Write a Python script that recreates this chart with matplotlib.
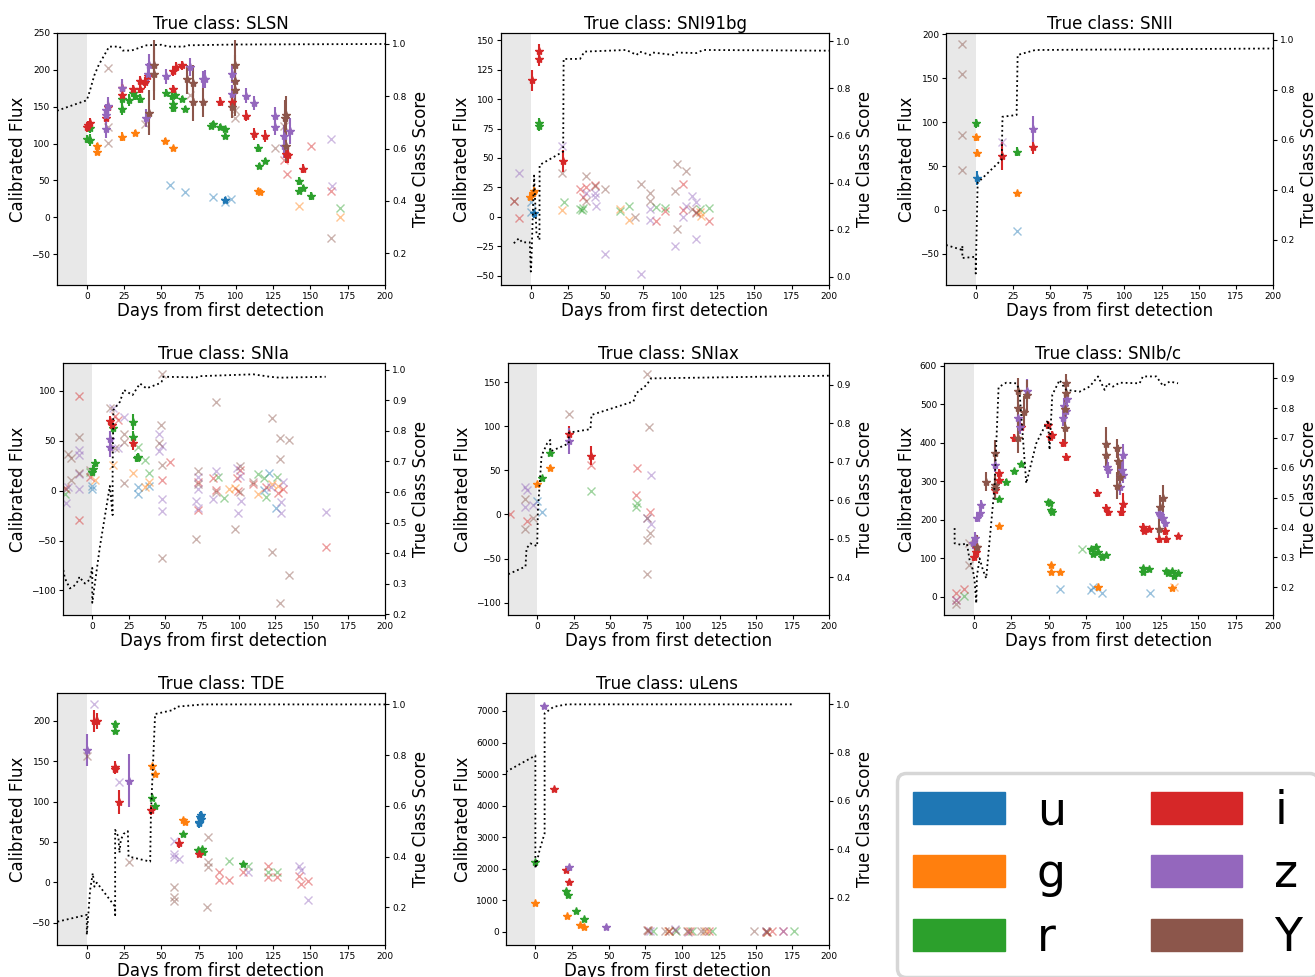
import numpy as np
import matplotlib.pyplot as plt
from matplotlib.patches import Patch

bands = ['u', 'g', 'r', 'i', 'z', 'Y']
band_colors = ['tab:blue', 'tab:orange', 'tab:green', 'tab:red', 'tab:purple', 'tab:brown']

# ---- SLSN ---- detections: (band, day, flux, err) / non-detections: (band, day, flux)
slsn_det = [
    ('i', 0, 122, 6), ('i', 1, 125, 6), ('i', 2, 128, 6), ('i', 13, 135, 8), ('i', 14, 150, 8),
    ('i', 23.7, 166, 8), ('i', 23.7, 175, 8), ('i', 31, 174, 6), ('i', 36, 185, 7), ('i', 36, 174, 6),
    ('i', 39, 183, 7), ('i', 41, 191, 8), ('i', 57.7, 198, 6), ('i', 57.7, 174, 5), ('i', 60, 204, 6),
    ('i', 64, 206, 6), ('i', 89, 157, 6), ('i', 97.7, 157, 8), ('i', 107, 138, 8), ('i', 112, 113, 8),
    ('i', 119.5, 110, 8), ('i', 133.6, 86, 12), ('i', 135, 85, 12), ('i', 145, 66, 6),
    ('r', 0, 106, 5), ('r', 2, 105, 8), ('r', 2, 121, 7), ('r', 23.7, 147, 8), ('r', 23.7, 160, 8),
    ('r', 28, 159, 8), ('r', 31, 168, 5), ('r', 32, 164, 5), ('r', 36, 161, 6), ('r', 53, 169, 5),
    ('r', 57, 164, 5), ('r', 57.7, 154, 5), ('r', 57.7, 148, 5), ('r', 59, 166, 5), ('r', 64, 161, 4),
    ('r', 66, 147, 4), ('r', 83, 124, 4), ('r', 84.5, 127, 4), ('r', 89, 122, 4), ('r', 92.7, 120, 4),
    ('r', 92.7, 110, 4), ('r', 114.6, 94, 5), ('r', 115.8, 69, 4), ('r', 119.5, 76, 4),
    ('r', 142.3, 49, 5), ('r', 142.3, 36, 5), ('r', 145, 40, 4), ('r', 150.4, 29, 5),
    ('g', 7, 96, 5), ('g', 7, 88, 4), ('g', 23.7, 109, 6), ('g', 32, 114, 4), ('g', 52.5, 104, 4),
    ('g', 57.7, 94, 3), ('g', 114.6, 36, 3), ('g', 116, 34, 3),
    ('u', 92.7, 24, 4),
    ('z', 13, 146, 8), ('z', 13, 139, 10), ('z', 13, 120, 12), ('z', 14.5, 151, 12), ('z', 23.7, 175, 12),
    ('z', 40, 135, 12), ('z', 41, 195, 14), ('z', 41.5, 206, 15), ('z', 53, 191, 10), ('z', 69, 204, 12),
    ('z', 77.8, 187, 12), ('z', 79, 188, 12), ('z', 97.7, 194, 12), ('z', 97.7, 167, 12),
    ('z', 107, 165, 10), ('z', 112, 155, 10), ('z', 126, 137, 12), ('z', 126, 123, 12),
    ('z', 132, 110, 15), ('z', 132, 96, 15), ('z', 136, 117, 18),
    ('Y', 41.8, 142, 30), ('Y', 45, 194, 35), ('Y', 45, 206, 35), ('Y', 67.5, 187, 20),
    ('Y', 71.5, 182, 25), ('Y', 71.5, 156, 25), ('Y', 77.8, 156, 20), ('Y', 97.7, 150, 15),
    ('Y', 99.7, 206, 35), ('Y', 99.7, 185, 35), ('Y', 99.7, 173, 35), ('Y', 133, 134, 25),
    ('Y', 133.6, 139, 25), ('Y', 133.6, 96, 20),
]
slsn_nondet = [
    ('Y', 14.5, 202), ('Y', 14.5, 122), ('Y', 14, 101), ('Y', 39, 127), ('Y', 69, 166), ('Y', 99.7, 135),
    ('Y', 99.7, 145), ('Y', 126, 94), ('Y', 132.5, 124), ('Y', 163.6, -28),
    ('i', 132.5, 78), ('i', 134.5, 58), ('i', 150.4, 97), ('i', 163.6, 36),
    ('u', 56, 44), ('u', 66, 34), ('u', 84.5, 27), ('u', 92.7, 20), ('u', 96.5, 25),
    ('z', 163.6, 106), ('z', 164.5, 42), ('g', 142.3, 15), ('g', 170, 0), ('r', 170, 12),
]
slsn_score_t = [-20, -10, 0, 2, 5, 8, 12, 15, 22, 24, 30, 35, 40, 50, 55, 65, 68, 100, 200]
slsn_score = [0.745, 0.765, 0.785, 0.82, 0.88, 0.92, 0.96, 0.99, 0.99, 0.975, 0.975, 0.985,
              0.995, 0.997, 0.99, 0.99, 0.995, 0.998, 1.0]

# ---- SNI91bg ----
sni91bg_det = [
    ('i', 1, 116, 9), ('i', 5.8, 141, 6), ('i', 5.8, 134, 6), ('i', 21.7, 47.5, 9),
    ('r', 5.8, 80, 4), ('r', 5.8, 77, 4),
    ('g', -0.7, 17, 3), ('g', 1.3, 20, 3), ('g', 2.2, 22, 3), ('u', 2, 3, 4),
]
sni91bg_nondet = [
    ('Y', -11, 13.5), ('Y', 21, 37), ('Y', 36.7, 35), ('Y', 36.7, 13.5), ('Y', 43, 26.6), ('Y', 49.7, 24),
    ('Y', 74, 28), ('Y', 80, 20.6), ('Y', 80, 13.5), ('Y', 70, 0), ('Y', 96.6, 22), ('Y', 97.8, 45),
    ('Y', 104, 39), ('Y', 97.8, -10), ('Y', 108, 7), ('Y', 110.7, 3),
    ('i', -8, -1), ('i', -11, 13.5), ('i', 33, 24), ('i', 35, 17), ('i', 37, 25), ('i', 43, 27),
    ('i', 83.7, -3.4), ('i', 90, 5), ('i', 101.8, 28), ('i', 101.8, 6), ('i', 110.7, 4), ('i', 119.7, -3.4),
    ('z', -8, 37.6), ('z', 21, 60), ('z', 37, 20), ('z', 43, 20.6), ('z', 43, 17), ('z', 43.6, 9.6),
    ('z', 49.7, -31.4), ('z', 74, -48), ('z', 80, 6.5), ('z', 80, -3), ('z', 96.6, -24.6),
    ('z', 101.8, 0), ('z', 104, 9), ('z', 108, 18), ('z', 110.7, 12.7), ('z', 110.7, -19),
    ('r', 22, 12.4), ('r', 33, 6.5), ('r', 35, 7.4), ('r', 34, 6), ('r', 59.7, 5.4), ('r', 66, 9.6),
    ('r', 83.7, 8.8), ('r', 90, 8), ('r', 113.4, 6.5), ('r', 119.7, 8),
    ('g', 21, 6), ('g', 59.7, 6.5), ('g', 66, -2.5), ('g', 113.4, 4), ('g', 114, 1),
    ('u', 0, 4), ('u', 0, 13),
]
sni91bg_score_t = [-11.4, -8, -5.8, -0.7, 0, 0.3, 1.5, 2.2, 3.8, 5.8, 5.9, 21.7, 22, 33, 36,
                   64, 71, 73, 80, 82, 95.5, 97.8, 111, 115.7, 200]
sni91bg_score = [0.143, 0.164, 0.147, 0.147, 0.023, 0.05, 0.30, 0.43, 0.185, 0.157, 0.475, 0.532,
                 0.925, 0.925, 0.956, 0.963, 0.942, 0.956, 0.942, 0.952, 0.942, 0.952, 0.95, 0.963, 0.96]

# ---- SNII ----
snii_det = [
    ('r', 0, 99, 5), ('r', 27.5, 66.5, 5), ('g', 0, 83, 4), ('g', 0.7, 65, 4), ('g', 27.5, 19, 2),
    ('u', 0.7, 36, 8), ('i', 18, 61.5, 16), ('i', 38.7, 72, 8), ('z', 38.7, 92, 15),
]
snii_nondet = [('Y', -9, 189), ('Y', -9, 155), ('Y', -9, 86), ('Y', -9, 45), ('z', 18, 78), ('u', 27.5, -24)]
snii_score_t = [-20, -9, -9, -9, 0, 0, 1.3, 17.5, 18, 27.5, 28.2, 40, 200]
snii_score = [0.179, 0.159, 0.175, 0.127, 0.132, 0.065, 0.428, 0.521, 0.692, 0.699, 0.939, 0.959, 0.965]

# ---- SNIa ----
snia_det = [
    ('i', 12, 70, 5), ('i', 13.2, 66, 5), ('i', 27.5, 47.5, 7),
    ('r', 0, 19, 4), ('r', 0.3, 22, 4), ('r', 1.8, 28, 4), ('r', 14.4, 62.5, 5), ('r', 27.5, 69, 8),
    ('r', 27.5, 53.5, 6), ('r', 30.8, 32.4, 4), ('r', 31.4, 34, 4),
    ('z', 12, 52, 8), ('z', 12, 44, 10),
]
snia_nondet = [
    ('Y', -18.2, 2), ('Y', -16.9, 37), ('Y', -14.4, 33), ('Y', -14.4, 11), ('Y', -9, 53.5), ('Y', -9, 18),
    ('Y', -1.6, 21), ('i', -9, 95), ('i', -9, -29), ('i', -18.6, 3), ('i', -1.6, 14),
    ('z', -18.2, -12), ('z', -16.9, 4), ('z', -9, 41), ('z', -9, 36), ('z', -9, 17), ('z', -9, 2),
    ('r', -18.6, -3), ('r', -1.6, 19), ('u', 0, 5), ('u', 0, 1.5), ('g', 1.8, 11),
    ('Y', 12, 83), ('Y', 15.5, 42.5), ('Y', 21.6, 56.5), ('Y', 21.6, 49), ('Y', 21.6, 7.4),
    ('z', 13.9, 83), ('z', 17.3, 42.5), ('z', 21.6, 73.5), ('i', 15.5, 75), ('i', 17.3, 71), ('g', 13.9, 26),
    ('g', 27.5, 17.4), ('g', 36, 4), ('g', 39, 9), ('r', 31.4, 43.5), ('r', 36, 31), ('r', 39, 17.4),
    ('u', 31.4, 4), ('u', 31.4, -3.3), ('u', 39, 4.7),
    ('Y', 47.4, 117), ('Y', 46.7, 66), ('Y', 45.8, 48), ('Y', 47.4, 26), ('Y', 47.4, -68),
    ('z', 45.8, 57), ('z', 45.8, 40), ('z', 47.4, 45), ('z', 47.4, -8), ('z', 47.4, -20),
    ('i', 47.4, 11), ('i', 53, 28.4),
    ('Y', 70.6, -48), ('Y', 72.4, 20), ('Y', 72.4, 7), ('z', 70.6, -10), ('z', 72.4, 14), ('z', 72.4, 2),
    ('z', 72.4, -17), ('i', 72.4, 9), ('i', 72.4, -19.4),
    ('Y', 84.5, 89), ('Y', 84.5, -1), ('i', 82.7, 13), ('i', 84.5, 0.7), ('z', 82.7, -8), ('z', 84.5, 20),
    ('r', 86, 14), ('r', 90, -7), ('g', 93.6, 1.3),
    ('Y', 97.5, -38), ('Y', 101, 25), ('Y', 101, -1), ('z', 98.6, 23), ('z', 99.3, -22), ('z', 101, 15),
    ('z', 101.5, -10), ('i', 98.6, 12.4), ('i', 99.3, -0.3), ('i', 101, 21), ('g', 97.5, 2.3),
    ('Y', 110, 9), ('Y', 122.5, 72.6), ('Y', 122.5, -62), ('Y', 128, 52.5), ('Y', 128, 31.4),
    ('Y', 128, -113), ('Y', 134.6, 51), ('Y', 134.6, -84.6),
    ('r', 113.4, 16.7), ('r', 117, 12.4), ('r', 119, -6), ('r', 126, 14),
    ('u', 121, 18), ('u', 117.5, 0.7), ('u', 125.5, -17),
    ('g', 113.4, -3.3), ('g', 122.5, 6.7), ('g', 127, 4.7),
    ('z', 121.9, 4), ('z', 128.7, -11), ('z', 128.7, -22), ('z', 130.5, 8.4),
    ('i', 110, 6.7), ('i', 119, 4), ('i', 127, -2.7), ('i', 130, 1.3),
    ('z', 159.5, -21.7), ('i', 159.5, -57),
]
snia_score_t = [-19.8, -18.7, -15.3, -12.5, -9, -9, -5, -1.6, 0, 0, 5.2, 12, 13.9, 13.9, 14.4, 18.9,
                21.6, 27.5, 32.6, 37, 45.8, 47.4, 48.5, 71.3, 73.6, 110, 121.4, 128, 159.5]
snia_score = [0.345, 0.318, 0.285, 0.293, 0.314, 0.323, 0.301, 0.314, 0.352, 0.238, 0.421, 0.62,
              0.525, 0.67, 0.868, 0.895, 0.934, 0.917, 0.955, 0.939, 0.955, 0.961, 0.977, 0.975,
              0.979, 0.985, 0.977, 0.974, 0.977]

# ---- SNIax ----
sniax_det = [
    ('g', 0, 34, 3), ('g', 8.9, 53, 3), ('r', 3, 41, 3), ('r', 8.9, 70, 4),
    ('i', 21.9, 91, 9), ('i', 37, 66.5, 11), ('z', 21.9, 83, 15),
]
sniax_nondet = [
    ('i', -18.7, 0), ('i', -6.8, -7), ('i', 37, 56), ('i', 67.7, 22), ('i', 68.2, 53), ('i', 77.5, 3),
    ('Y', -8.2, 17), ('Y', -8.2, -16.6), ('Y', -3.2, -4.5), ('Y', 21.9, 114), ('Y', 75, 159),
    ('Y', 76.6, 99), ('Y', 75, -4.5), ('Y', 75, -29), ('Y', 77, -21.6), ('Y', 75, -67.7),
    ('z', -8.2, 30.6), ('z', -6.8, 27.6), ('z', -8.2, 8.7), ('z', -3.2, 10.6), ('z', 78, 44.6),
    ('z', 78, -11), ('z', 75, -4.5), ('u', 0, 15), ('u', 3, 2.3),
    ('r', 37, 27), ('r', 67.7, 8.7), ('r', 68.2, 13),
]
sniax_score_t = [-19.8, -8, -7.3, -4.6, 0, 0.5, 3, 6.8, 9, 9, 21.7, 21.7, 36.5, 37.2, 66, 67.7, 75, 78, 200]
sniax_score = [0.408, 0.428, 0.475, 0.488, 0.481, 0.575, 0.716, 0.748, 0.757, 0.727, 0.748, 0.776,
               0.785, 0.822, 0.857, 0.878, 0.9, 0.917, 0.924]

# ---- SNIb/c ----
snibc_det = [
    ('i', 0, 104, 10), ('i', 1.6, 117, 10), ('i', 1.1, 130, 10), ('i', 13.8, 277, 12), ('i', 16.5, 321, 12),
    ('i', 16.5, 303, 12), ('i', 26.8, 412, 10), ('i', 31.7, 442, 10), ('i', 49.5, 447, 10),
    ('i', 50.6, 416, 10), ('i', 52.4, 420, 10), ('i', 59.5, 400, 10), ('i', 61.8, 364, 10),
    ('i', 82.5, 270, 10), ('i', 88.5, 230, 10), ('i', 89.6, 221, 10), ('i', 98.5, 221, 12),
    ('i', 99.7, 240, 30), ('i', 113, 182, 10), ('i', 113.7, 171, 8), ('i', 117, 176, 8),
    ('i', 123.7, 149, 10), ('i', 127.5, 171, 10), ('i', 128.6, 149, 10), ('i', 136.5, 158, 6),
    ('r', 16.5, 254, 6), ('r', 21.6, 299, 6), ('r', 26.8, 327, 6), ('r', 31.7, 344, 6), ('r', 49.5, 245, 6),
    ('r', 50.6, 243, 6), ('r', 51.7, 225, 6), ('r', 52.4, 219, 6), ('r', 78.5, 123, 6), ('r', 79.6, 111, 6),
    ('r', 81.8, 130, 6), ('r', 83, 117, 6), ('r', 85.8, 104, 6), ('r', 88.5, 108, 6), ('r', 113, 75, 6),
    ('r', 113.2, 65, 6), ('r', 117, 71, 5), ('r', 128.6, 67, 5), ('r', 129.8, 61, 5), ('r', 132.7, 68, 5),
    ('r', 133.8, 54, 5), ('r', 136.5, 61, 5),
    ('g', 16.5, 185, 5), ('g', 51.7, 82, 5), ('g', 51.7, 65, 5), ('g', 57.7, 65, 5), ('g', 83, 24, 5),
    ('g', 132.7, 22, 5),
    ('z', -0.7, 139, 15), ('z', 0.4, 152, 15), ('z', 2.2, 205, 12), ('z', 3.8, 217, 12), ('z', 4.5, 238, 14),
    ('z', 13.8, 342, 18), ('z', 29.4, 466, 20), ('z', 30.5, 442, 20), ('z', 35.5, 536, 30),
    ('z', 59.5, 464, 20), ('z', 60.2, 496, 20), ('z', 61.3, 484, 20), ('z', 62.2, 513, 20),
    ('z', 89.2, 338, 20), ('z', 89.5, 329, 20), ('z', 97.4, 312, 20), ('z', 97.4, 284, 20),
    ('z', 99, 329, 20), ('z', 99.7, 368, 30), ('z', 99.9, 316, 20), ('z', 123.7, 217, 15),
    ('z', 124.6, 212, 15), ('z', 126.5, 204, 15), ('z', 127.5, 192, 15),
    ('Y', 2.2, 130, 30), ('Y', 8.2, 299, 25), ('Y', 13.8, 373, 35), ('Y', 13.8, 290, 30), ('Y', 13.8, 282, 30),
    ('Y', 29.4, 490, 40), ('Y', 29.4, 535, 35), ('Y', 29.4, 414, 40), ('Y', 33.4, 481, 40),
    ('Y', 35.5, 524, 40), ('Y', 60.6, 487, 40), ('Y', 60.6, 440, 40), ('Y', 61.8, 555, 25),
    ('Y', 61.8, 530, 25), ('Y', 88, 397, 45), ('Y', 88, 368, 40), ('Y', 95.6, 386, 25),
    ('Y', 95.6, 288, 35), ('Y', 96.5, 354, 40), ('Y', 97.4, 310, 35), ('Y', 123.7, 175, 30),
    ('Y', 124.6, 234, 30), ('Y', 126.5, 256, 35),
]
snibc_nondet = [
    ('i', -12.3, 9), ('i', -12.3, -9), ('i', -6.7, 19), ('Y', -12.3, -19), ('Y', -3.3, 139), ('Y', -3.3, 82),
    ('r', -6.7, 2), ('r', 72.5, 123), ('z', -12.3, -9),
    ('u', 57.7, 19), ('u', 78.5, 17), ('u', 79.6, 24), ('u', 85.8, 9), ('u', 117.5, 9), ('g', 133.6, 26),
]
snibc_score_t = [-12.9, -12.9, -8.5, -4.7, -2.9, -0.7, 0.4, 1.6, 2, 3.8, 6, 8.2, 13.8, 16.5, 21.6, 28.3,
                 29.4, 30.5, 35, 41.7, 49.5, 50.6, 52.4, 57.3, 60.6, 61.8, 70.7, 77.4, 83, 87.4,
                 89.6, 93, 97.4, 110.8, 113, 122, 126.5, 130.9, 136.5]
snibc_score = [0.398, 0.347, 0.342, 0.347, 0.292, 0.258, 0.225, 0.146, 0.236, 0.297, 0.258, 0.23,
               0.537, 0.87, 0.885, 0.883, 0.872, 0.855, 0.548, 0.682, 0.76, 0.66, 0.844, 0.894,
               0.867, 0.861, 0.855, 0.872, 0.906, 0.861, 0.883, 0.872, 0.885, 0.883, 0.906, 0.906,
               0.874, 0.889, 0.883]

# ---- TDE ----
tde_det = [
    ('z', 0, 164, 20), ('z', 28, 126, 33),
    ('i', 4.5, 200, 14), ('i', 6.7, 200, 10), ('i', 19, 143, 8), ('i', 19, 140, 6), ('i', 21.9, 100, 15),
    ('i', 43, 90, 6), ('i', 62, 49, 6), ('i', 75.5, 35, 4),
    ('r', 19, 196, 4), ('r', 19, 188, 4), ('r', 43.6, 105, 4), ('r', 45.8, 95, 3), ('r', 64.4, 59.5, 3),
    ('r', 74.9, 40, 3), ('r', 77, 41, 3), ('r', 78.2, 38, 3), ('r', 104.6, 22.7, 2),
    ('g', 43.8, 144, 3), ('g', 45.8, 134, 3), ('g', 64.4, 77, 3), ('g', 66, 75, 3),
    ('u', 75.3, 75, 6), ('u', 76, 81, 6), ('u', 76.6, 78, 6), ('u', 75, 73, 6), ('u', 76.5, 83, 6),
]
tde_nondet = [
    ('z', 4.5, 221), ('z', 21.9, 124), ('z', 58.5, 51), ('z', 58.5, 35), ('z', 58.5, 32), ('z', 62, 28.5),
    ('z', 108.4, 12.4), ('z', 142.3, 20.7), ('z', 143.7, 15.3), ('z', 148.6, -22),
    ('Y', 0, 156), ('Y', 28, 25.6), ('Y', 58.5, -5.4), ('Y', 58.5, -17.8), ('Y', 58.5, -22.7),
    ('Y', 81.6, 56.6), ('Y', 81.6, 25.6), ('Y', 81.6, 19.4), ('Y', 80.9, -30),
    ('i', 88.7, 13.2), ('i', 88.7, 2.9), ('i', 95.6, 2.9), ('i', 104.6, 12.4), ('i', 121.3, 20.7),
    ('i', 121.3, 7), ('i', 127.4, 6.2), ('i', 142.3, 7.9), ('i', 143.7, -2), ('i', 148.6, 2),
    ('r', 95.6, 26.9), ('r', 108.4, 20.7), ('r', 121.3, 13.2), ('r', 127.4, 13.2),
]
tde_score_t = [-19.7, 0, 0, 2.2, 4, 5.1, 6.7, 19, 19, 19, 21.2, 21.9, 22.8, 24.6, 27.5, 28, 42.5, 43,
               45.8, 58, 60.3, 78, 200]
tde_score = [0.143, 0.17, 0.091, 0.268, 0.334, 0.281, 0.297, 0.202, 0.17, 0.505, 0.478, 0.415, 0.465,
             0.489, 0.5, 0.4, 0.38, 0.57, 0.962, 0.978, 0.991, 1.0, 1.0]

# ---- uLens ----
ulens_det = [
    ('z', 6.1, 7169, 40), ('z', 22.7, 2041, 40), ('z', 48, 159, 40),
    ('i', 12.9, 4526, 40), ('i', 20.9, 1956, 40), ('i', 23.1, 1586, 40),
    ('r', 0, 2199, 40), ('r', 20.9, 1300, 40), ('r', 22, 1163, 40), ('r', 27.9, 656, 40), ('r', 33.3, 391, 40),
    ('g', 0, 920, 30), ('g', 21.5, 497, 30), ('g', 30.2, 211, 30), ('g', 33.3, 159, 30),
]
ulens_nondet = [
    ('Y', 76, 40), ('Y', 77, 20), ('Y', 88, 20), ('Y', 91, 20), ('Y', 95, 60), ('Y', 103, 20), ('Y', 113, 20),
    ('Y', 115, 30), ('Y', 149, 10), ('Y', 157, 20), ('Y', 158, -20),
    ('i', 77, 40), ('i', 91, 10), ('i', 105, 30), ('i', 118, 20), ('i', 157, -10), ('i', 161, 20), ('i', 169, 10),
    ('z', 78, 30), ('z', 95, 80), ('z', 104, 0), ('z', 157, 10), ('z', 169, 30),
    ('g', 90, 20), ('g', 104, 10), ('g', 116, 10), ('g', 158, 0),
    ('r', 80, 20), ('r', 96, 30), ('r', 107, 10), ('r', 120, 20), ('r', 176, 10),
]
ulens_score_t = [-20, 0, 0, 3, 6.3, 6.3, 12.5, 21.5, 174.6]
ulens_score = [0.721, 0.788, 0.321, 0.40, 0.466, 0.963, 0.99, 1.0, 1.0]


def plot_panel(rect, title, det, nondet, score_t, score, ylim, score_lim):
    ax = fig.add_axes(rect)
    ax.axvspan(-20, 0, color='lightgray', alpha=0.5, lw=0)
    for b, c in zip(bands, band_colors):
        d = [p[1:] for p in det if p[0] == b]
        if d:
            t, f, e = zip(*d)
            ax.errorbar(t, f, yerr=e, fmt='*', color=c, ms=6, elinewidth=1.5, capsize=0)
        n = [p[1:] for p in nondet if p[0] == b]
        if n:
            t, f = zip(*n)
            ax.plot(t, f, 'x', color=c, alpha=0.45, ms=6)
    ax.set_xlim(-20, 200)
    ax.set_ylim(*ylim)
    ax.set_xticks(np.arange(0, 201, 25))
    ax.tick_params(labelsize=6.5, length=3, pad=2)
    ax.set_title('True class: ' + title, fontsize=12, pad=2)
    ax.set_xlabel('Days from first detection', fontsize=12, labelpad=1)
    ax.set_ylabel('Calibrated Flux', fontsize=12, labelpad=3)
    ax2 = ax.twinx()
    ax2.plot(score_t, score, 'k:', lw=1.3)
    ax2.set_ylim(*score_lim)
    ax2.tick_params(labelsize=6.5, length=3, pad=2)
    ax2.set_ylabel('True Class Score', fontsize=12)
    return ax


W, H = 1315, 977


def rect(left, top, right, bottom):
    return [left / W, 1 - bottom / H, (right - left) / W, (bottom - top) / H]


fig = plt.figure(figsize=(13.15, 9.77), dpi=100)

plot_panel(rect(57, 33, 385, 285), 'SLSN', slsn_det, slsn_nondet, slsn_score_t, slsn_score,
           (-92, 250), (0.079, 1.042))
plot_panel(rect(501, 33, 829, 285), 'SNI91bg', sni91bg_det, sni91bg_nondet, sni91bg_score_t, sni91bg_score,
           (-57.7, 156), (-0.034, 1.035))
plot_panel(rect(946, 33, 1273, 285), 'SNII', snii_det, snii_nondet, snii_score_t, snii_score,
           (-85.5, 201.7), (0.019, 1.027))
plot_panel(rect(63, 363, 385, 615), 'SNIa', snia_det, snia_nondet, snia_score_t, snia_score,
           (-124.7, 128), (0.198, 1.022))
plot_panel(rect(508, 363, 829, 615), 'SNIax', sniax_det, sniax_nondet, sniax_score_t, sniax_score,
           (-114, 171.7), (0.302, 0.957))
plot_panel(rect(944, 363, 1273, 615), 'SNIb/c', snibc_det, snibc_nondet, snibc_score_t, snibc_score,
           (-47.7, 607.8), (0.107, 0.951))
plot_panel(rect(57, 693, 385, 945), 'TDE', tde_det, tde_nondet, tde_score_t, tde_score,
           (-77.7, 234.7), (0.051, 1.045))
plot_panel(rect(506, 693, 829, 945), 'uLens', ulens_det, ulens_nondet, ulens_score_t, ulens_score,
           (-423, 7571), (0.004, 1.047))

handles = [Patch(color=c, label=b) for b, c in zip(bands, band_colors)]
leg = fig.legend(handles=handles, loc='upper left', bbox_to_anchor=(897 / W, 1 - 773 / H), ncol=2,
                 fontsize=33, labelspacing=0.4, borderpad=0.35, handletextpad=0.7,
                 columnspacing=1.85, borderaxespad=0)
leg.get_frame().set_linewidth(2.5)

fig.savefig('out.png', dpi=100)
